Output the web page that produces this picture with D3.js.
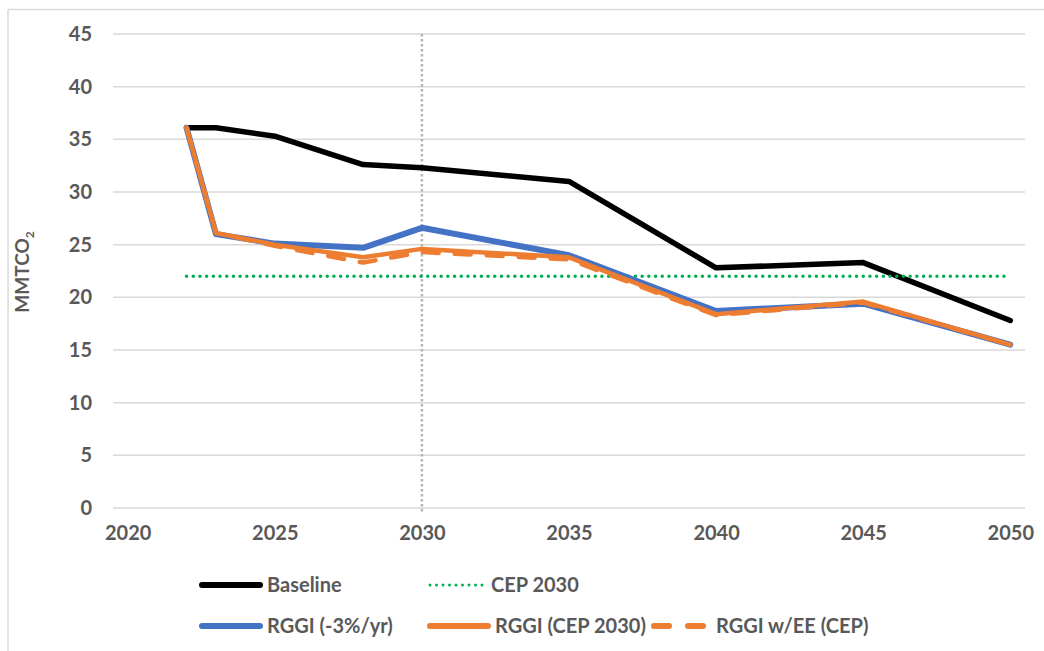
<!DOCTYPE html>
<html>
<head>
<meta charset="utf-8">
<script src="https://cdn.jsdelivr.net/npm/d3@7"></script>
<style>
  body { margin: 0; background: #fff; }
  svg { font-family: Lato, "Open Sans", sans-serif; }
</style>
</head>
<body>
<div id="chart"></div>
<script>
// values
var years = [2022, 2023, 2025, 2028, 2030, 2035, 2040, 2045, 2050]
var baseline = [36.1, 36.1, 35.3, 32.6, 32.3, 31.0, 22.8, 23.3, 17.8]
var rggi3 = [36.1, 26.0, 25.1, 24.7, 26.6, 24.0, 18.7, 19.4, 15.5]
var rggiCep = [36.1, 26.1, 25.0, 23.8, 24.6, 23.8, 18.4, 19.6, 15.5]
var rggiEE = [36.1, 26.1, 24.9, 23.3, 24.3, 23.6, 18.3, 19.5, 15.5]
var cepYears = [2022, 2050]
var cep2030 = [22, 22]
var yTicks = [0, 5, 10, 15, 20, 25, 30, 35, 40, 45]
var xTicks = [2020, 2025, 2030, 2035, 2040, 2045, 2050]
var markYear = 2030

var W = 1044, H = 651
var svg = d3.select("#chart").append("svg").attr("width", W).attr("height", H)

// chart frame (top + left edges visible)
svg.append("line").attr("x1", 8).attr("x2", W).attr("y1", 9.5).attr("y2", 9.5)
  .attr("stroke", "#d9d9d9").attr("stroke-width", 1.5)
svg.append("line").attr("x1", 8).attr("x2", 8).attr("y1", 9.5).attr("y2", H)
  .attr("stroke", "#d9d9d9").attr("stroke-width", 1.5)

var x = d3.scaleLinear().domain([2019.5, 2050.5]).range([113, 1025])
var y = d3.scaleLinear().domain([0, 45]).range([508, 34])

// gridlines
svg.append("g").selectAll("line").data(yTicks).enter().append("line")
  .attr("x1", 113).attr("x2", 1025)
  .attr("y1", function(d) { return y(d) }).attr("y2", function(d) { return y(d) })
  .attr("stroke", "#d9d9d9").attr("stroke-width", 1.5)

// y labels
var yAxis = d3.axisLeft(y).tickValues(yTicks).tickSize(0).tickPadding(0)
var gy = svg.append("g").attr("transform", "translate(92,0)").call(yAxis)
gy.select(".domain").remove()
gy.selectAll("text").attr("fill", "#595959").style("font-size", "20px")
  .style("font-weight", "bold").style("font-family", "Lato, sans-serif")

// x labels
var xAxis = d3.axisBottom(x).tickValues(xTicks).tickFormat(d3.format("d")).tickSize(0).tickPadding(0)
var gx = svg.append("g").attr("transform", "translate(0,526)").call(xAxis)
gx.select(".domain").remove()
gx.selectAll("text").attr("fill", "#595959").style("font-size", "20px")
  .style("font-weight", "bold").style("font-family", "Lato, sans-serif")

// y title
var yt = svg.append("text").attr("transform", "translate(29,272) rotate(-90)")
  .attr("text-anchor", "middle").attr("fill", "#595959")
  .style("font-size", "19px").style("font-weight", "bold")
yt.append("tspan").text("MMTCO")
yt.append("tspan").text("2").style("font-size", "12px").attr("dy", 5)

// 2030 marker
svg.append("line").attr("x1", x(markYear)).attr("x2", x(markYear))
  .attr("y1", y(45)).attr("y2", y(0) + 4)
  .attr("stroke", "#b4b4b4").attr("stroke-width", 2.5).attr("stroke-dasharray", "2.5 2.5")

var line = d3.line()
  .x(function(d) { return x(d[0]) })
  .y(function(d) { return y(d[1]) })

function pairs(xs, vs) { return xs.map(function(v, i) { return [v, vs[i]] }) }

var series = [
  {name: "Baseline", xs: years, vs: baseline, color: "#000000", width: 5.5, dash: null, cap: "round"},
  {name: "CEP 2030", xs: cepYears, vs: cep2030, color: "#00b050", width: 3.5, dash: "0 6.7", cap: "round"},
  {name: "RGGI (-3%/yr)", xs: years, vs: rggi3, color: "#4472c4", width: 6, dash: null, cap: "round"},
  {name: "RGGI (CEP 2030)", xs: years, vs: rggiCep, color: "#ed7d31", width: 4.5, dash: null, cap: "round"},
  {name: "RGGI w/EE (CEP)", xs: years, vs: rggiEE, color: "#ed7d31", width: 4.5, dash: "16 16", cap: "round"}
]

series.forEach(function(s) {
  svg.append("path").datum(pairs(s.xs, s.vs))
    .attr("d", line)
    .attr("fill", "none")
    .attr("stroke", s.color)
    .attr("stroke-width", s.width)
    .attr("stroke-linejoin", "round")
    .attr("stroke-linecap", s.cap)
    .attr("stroke-dasharray", s.dash)
})

// legend
var legendPos = [
  {x: 202, y: 585}, {x: 430, y: 585},
  {x: 202, y: 626}, {x: 430, y: 626}, {x: 654, y: 626}
]
var lg = svg.append("g").selectAll("g").data(series).enter().append("g")
  .attr("transform", function(d, i) { return "translate(" + legendPos[i].x + "," + legendPos[i].y + ")" })
lg.append("line").attr("x1", 0).attr("x2", function(d, i) { return i == 4 ? 50 : (i == 1 ? 55 : 58) })
  .attr("stroke", function(d) { return d.color })
  .attr("stroke-width", function(d, i) { return i == 1 ? 3 : 6 })
  .attr("stroke-linecap", "round")
  .attr("stroke-dasharray", function(d, i) { return i == 1 ? "0 6.5" : (i == 4 ? "15 19" : null) })
lg.append("text")
  .attr("x", function(d, i) { return i == 4 ? 62 : (i == 1 ? 61 : 65) })
  .attr("dy", "0.35em")
  .attr("fill", "#595959").style("font-size", "20px").style("font-weight", "bold")
  .text(function(d) { return d.name })
</script>
</body>
</html>
